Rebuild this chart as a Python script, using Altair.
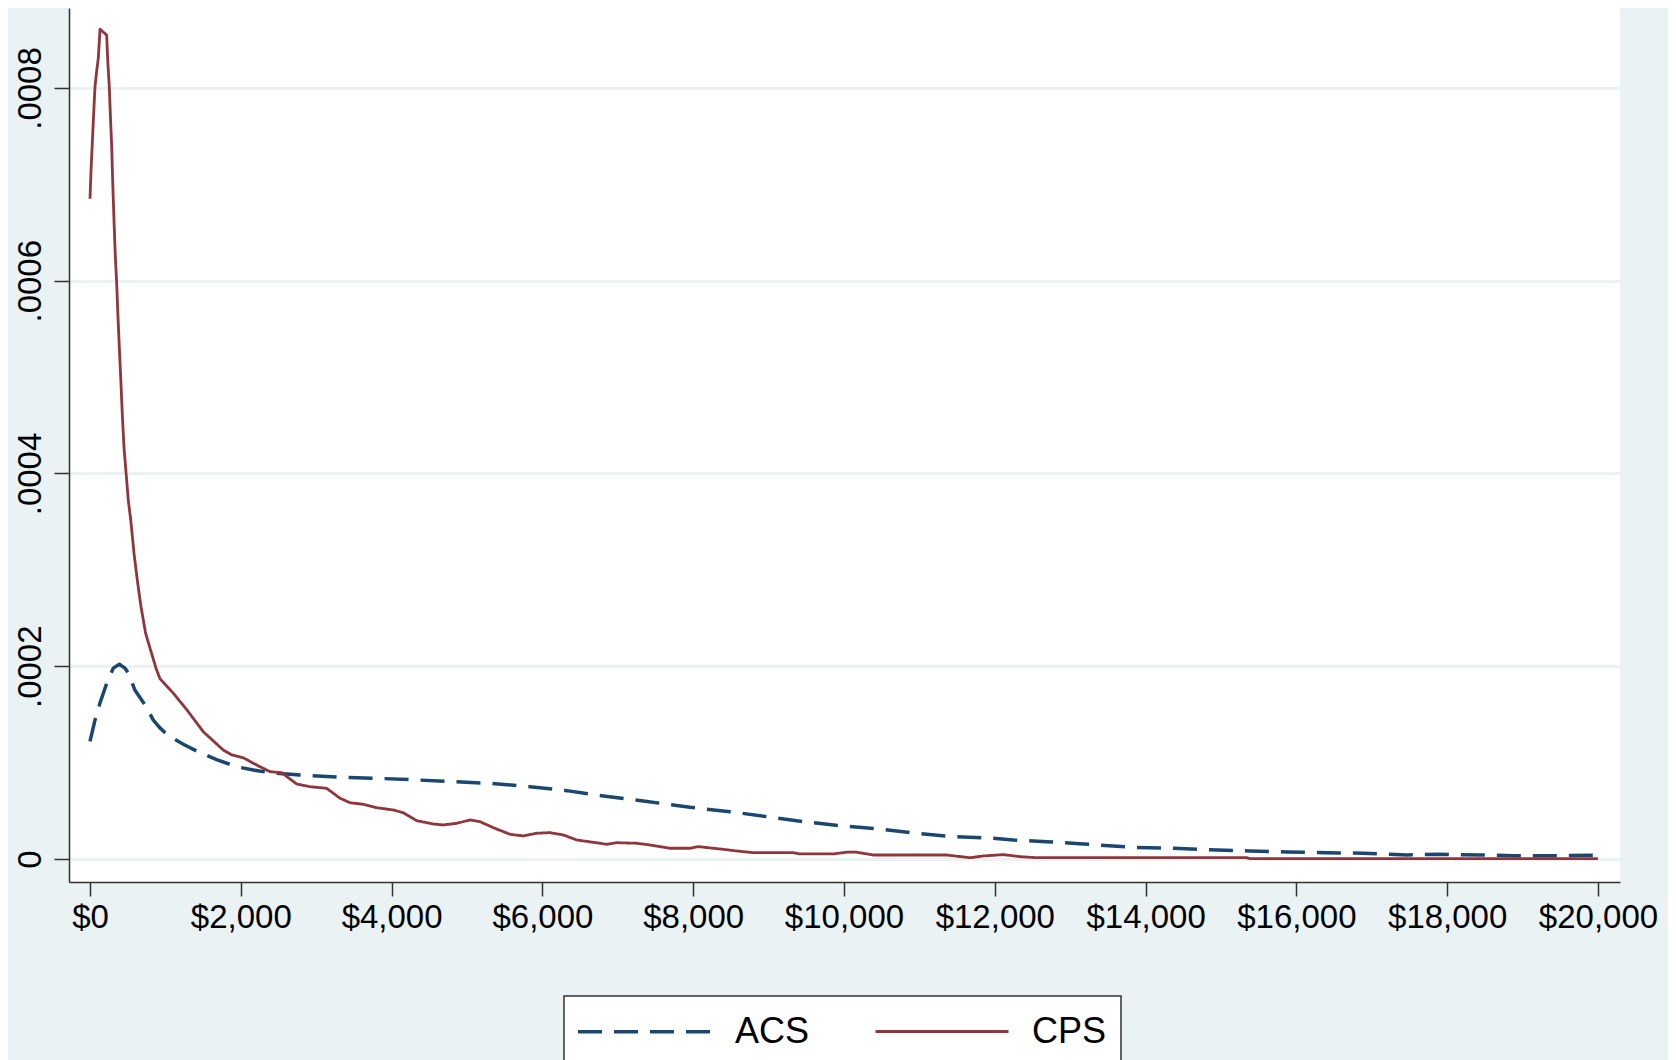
import altair as alt
import pandas as pd

# ---- data ----
series_names = ["ACS", "CPS"]

acs_income = [0, 66, 133, 221, 309, 389, 464, 508, 597, 729,
              840, 928, 1038, 1237, 1415, 1680, 1946, 2166, 2387, 2785,
              3316, 3802, 4333, 4818, 5305, 5836, 6322, 6808, 7338, 7958,
              8488, 8975, 9460, 9947, 10477, 10964, 11450, 11980, 12246, 12688,
              13174, 13837, 14368, 14854, 15385, 15871, 16402, 16887, 17462, 17882,
              18435, 18877, 19386, 20000]
acs_density = [0.000122, 0.000144, 0.000162, 0.000182, 0.000198, 0.000202, 0.000198, 0.000193, 0.000175, 0.000160,
               0.000144, 0.000136, 0.000128, 0.000119, 0.000112, 0.000103, 0.0000957, 0.0000923, 0.0000895, 0.0000871,
               0.0000848, 0.0000837, 0.0000820, 0.0000802, 0.0000785, 0.0000750, 0.0000709, 0.0000654, 0.0000602, 0.0000536,
               0.0000491, 0.0000439, 0.0000387, 0.0000345, 0.0000311, 0.0000267, 0.0000231, 0.0000215, 0.0000197, 0.0000179,
               0.0000156, 0.0000121, 0.0000111, 0.0000096, 0.0000083, 0.0000073, 0.0000065, 0.0000059, 0.0000041, 0.0000049,
               0.0000041, 0.0000034, 0.0000034, 0.0000038]

cps_income = [0, 13, 31, 49, 66, 89, 110, 133, 176, 221,
              235, 256, 269, 288, 301, 318, 336, 354, 371, 389,
              407, 428, 451, 508, 540, 584, 628, 676, 738, 818,
              875, 928, 1105, 1282, 1503, 1768, 1879, 2033, 2166, 2255,
              2387, 2542, 2741, 2918, 3139, 3316, 3448, 3625, 3802, 4023,
              4155, 4333, 4553, 4686, 4863, 5040, 5172, 5349, 5570, 5747,
              5924, 6101, 6277, 6455, 6675, 6853, 6985, 7251, 7427, 7692,
              7958, 8068, 8355, 8577, 8797, 9328, 9416, 9858, 10036, 10168,
              10389, 11362, 11671, 11848, 12113, 12334, 12556, 15341, 15385, 20000]
cps_density = [0.000685, 0.000713, 0.000744, 0.000774, 0.000801, 0.000818, 0.000831, 0.000861, 0.000858, 0.000855,
               0.000829, 0.000801, 0.000774, 0.000739, 0.000703, 0.000663, 0.000625, 0.000597, 0.000563, 0.000531,
               0.000500, 0.000462, 0.000427, 0.000372, 0.000352, 0.000317, 0.000289, 0.000262, 0.000234, 0.000213,
               0.000198, 0.000187, 0.000172, 0.000155, 0.000132, 0.000113, 0.000108, 0.000105, 0.0000993, 0.0000957,
               0.0000906, 0.0000895, 0.0000778, 0.0000750, 0.0000733, 0.0000630, 0.0000584, 0.0000567, 0.0000532, 0.0000508,
               0.0000480, 0.0000397, 0.0000363, 0.0000353, 0.0000370, 0.0000405, 0.0000387, 0.0000325, 0.0000256, 0.0000239,
               0.0000267, 0.0000273, 0.0000249, 0.0000197, 0.0000173, 0.0000152, 0.0000169, 0.0000163, 0.0000145, 0.0000111,
               0.0000111, 0.0000128, 0.0000104, 0.0000083, 0.0000065, 0.0000065, 0.0000052, 0.0000052, 0.0000070, 0.0000070,
               0.0000041, 0.0000041, 0.0000013, 0.0000031, 0.0000045, 0.0000024, 0.0000013, 0.0000013, 0.0000003, 0.0000003]

x_ticks = [0, 2000, 4000, 6000, 8000, 10000, 12000, 14000, 16000, 18000, 20000]
y_ticks = [0, 0.0002, 0.0004, 0.0006, 0.0008]

df = pd.concat([
    pd.DataFrame({"income": acs_income, "density": acs_density, "series": "ACS"}),
    pd.DataFrame({"income": cps_income, "density": cps_density, "series": "CPS"}),
], ignore_index=True)

bg = "#eaf2f3"
axis_col = "#333333"
font = "Liberation Sans"

chart = alt.Chart(df).mark_line(strokeJoin="round").encode(
    x=alt.X("income:Q",
            scale=alt.Scale(domain=[-278.5, 20292], nice=False, zero=False),
            axis=alt.Axis(values=x_ticks, format="$,.0f", title=None, grid=False,
                          labelFontSize=33, tickSize=14, labelPadding=5,
                          labelFlush=False, labelOverlap=False)),
    y=alt.Y("density:Q",
            scale=alt.Scale(domain=[-0.0000239, 0.000883], nice=False, zero=False),
            axis=alt.Axis(values=y_ticks,
                          labelExpr="datum.value == 0 ? '0' : substring(format(datum.value, '.4f'), 1)",
                          title=None, grid=True, gridColor=bg, gridWidth=3,
                          labelAngle=270, labelAlign="center", labelBaseline="alphabetic",
                          labelFontSize=33, tickSize=15, labelPadding=14,
                          labelFlush=False, labelOverlap=False)),
    color=alt.Color("series:N",
                    scale=alt.Scale(domain=series_names, range=["#1a476f", "#90353b"]),
                    legend=alt.Legend(title=None)),
    strokeDash=alt.StrokeDash("series:N",
                              scale=alt.Scale(domain=series_names, range=[[24, 12], [1, 0]]),
                              legend=alt.Legend(title=None)),
    strokeWidth=alt.StrokeWidth("series:N",
                                scale=alt.Scale(domain=series_names, range=[3.5, 2.8]),
                                legend=None),
).properties(
    width=1551,
    height=874,
    padding={"left": 61, "top": 0, "right": 48, "bottom": 178},
    autosize=alt.AutoSizeParams(type="none"),
    background=bg,
).configure_view(
    fill="white", stroke=None
).configure_axis(
    domainColor=axis_col, domainWidth=1.5, tickColor=axis_col, tickWidth=1.5,
    labelColor="black", labelFont=font,
).configure_legend(
    orient="none", legendX=495, legendY=988, direction="horizontal",
    symbolType="M-3.41,0H3.41", symbolSize=1521, symbolOffset=45,
    labelOffset=69, columnPadding=59, padding=14,
    fillColor="white", strokeColor=axis_col, strokeWidth=1.5,
    labelFontSize=36, labelFont=font, labelColor="black",
    symbolStrokeWidth=3.5,
)

chart.save("out.html", embed_options={"renderer": "svg", "actions": False})
